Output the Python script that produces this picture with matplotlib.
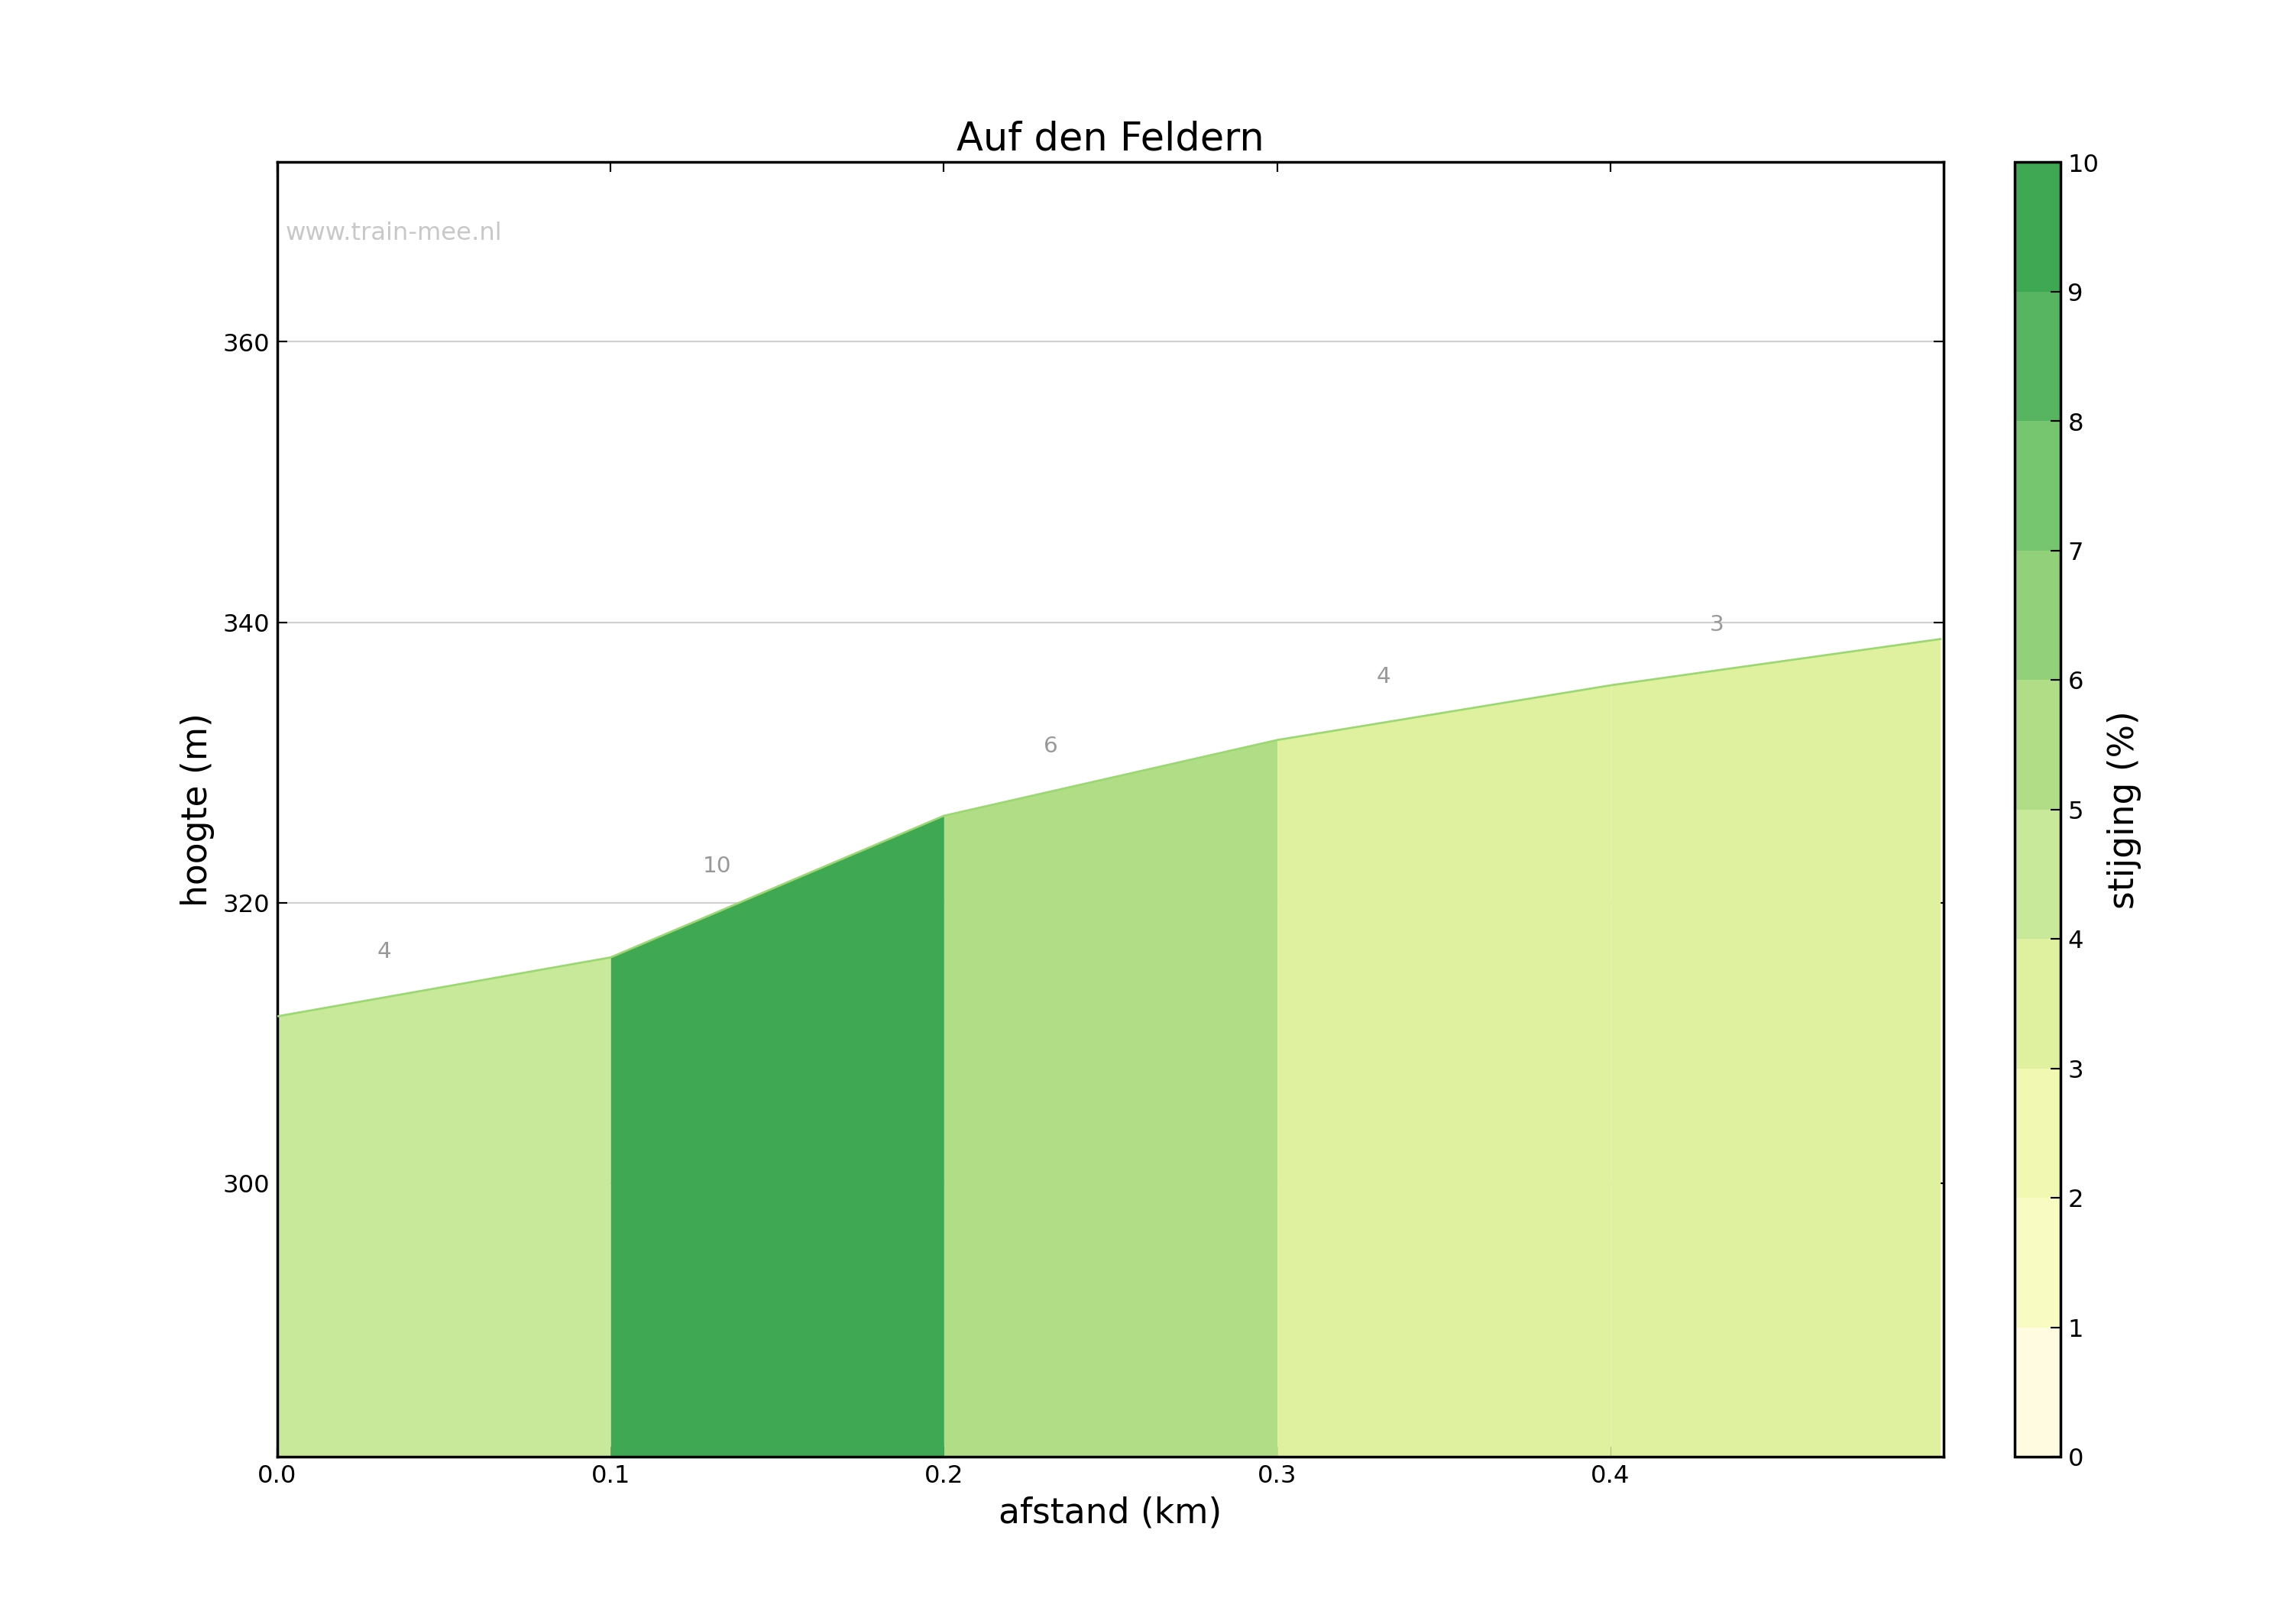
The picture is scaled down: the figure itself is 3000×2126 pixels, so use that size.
import matplotlib
matplotlib.use("Agg")
import matplotlib.pyplot as plt
from matplotlib.colors import ListedColormap, BoundaryNorm
import matplotlib.colorbar as mcb
import numpy as np

title = "Auf den Feldern"
dist_km = [0.0, 0.1, 0.2, 0.3, 0.4, 0.499]
elev_m = [311.9, 316.1, 326.2, 331.6, 335.5, 338.8]
slope_labels = ["4", "10", "6", "4", "3"]
level_colors = ["#fffbe0", "#f8fcc2", "#f0f8b2", "#dff09e", "#c8e89a",
                "#b0dd85", "#93d07a", "#75c66e", "#57b562", "#3ea853"]

cmap = ListedColormap(level_colors)
norm = BoundaryNorm(np.arange(0, 11), cmap.N)

fig = plt.figure(figsize=(15.52, 11.0), dpi=193.3)
ax = fig.add_axes([0.121, 0.103, 0.727, 0.797])
ymin, ymax = 280.5, 372.8

for i in range(len(dist_km) - 1):
    x0, x1 = dist_km[i], dist_km[i + 1]
    y0, y1 = elev_m[i], elev_m[i + 1]
    slope = (y1 - y0) / ((x1 - x0) * 1000) * 100
    c = cmap(norm(min(max(slope, 0), 9.99)))
    ax.fill_between([x0, x1], [y0, y1], ymin, color=c, lw=0, zorder=2)
    ax.text(x0 + 0.032, y0 + (y1 - y0) * 0.32 + 2.5, slope_labels[i],
            color="#999999", fontsize=11, ha="center", va="bottom", zorder=4)
ax.plot(dist_km, elev_m, color="#9ad870", lw=1, zorder=3)

ax.set_xlim(0, 0.5)
ax.set_ylim(ymin, ymax)
ax.set_xticks([0.0, 0.1, 0.2, 0.3, 0.4])
ax.set_yticks([300, 320, 340, 360])
ax.yaxis.grid(True, color="#d0d0d0", lw=0.8, zorder=1)
ax.set_axisbelow(True)
ax.tick_params(direction="in", top=True, right=True, labelsize=12, length=5)
for s in ax.spines.values():
    s.set_linewidth(1.3)
ax.set_xlabel("afstand (km)", fontsize=17)
ax.set_ylabel("hoogte (m)", fontsize=17)
ax.set_title(title, fontsize=19)
ax.text(0.005, 0.945, "www.train-mee.nl", transform=ax.transAxes,
        color="#c8c8c8", fontsize=12, va="center")

cax = fig.add_axes([0.879, 0.103, 0.02, 0.797])
cb = mcb.ColorbarBase(cax, cmap=cmap, norm=norm, ticks=range(0, 11))
cb.outline.set_linewidth(1.3)
cax.tick_params(labelsize=12, direction="in", length=5)
cb.set_label("stijging (%)", fontsize=17)
fig.savefig("out.png", dpi=193.3)
